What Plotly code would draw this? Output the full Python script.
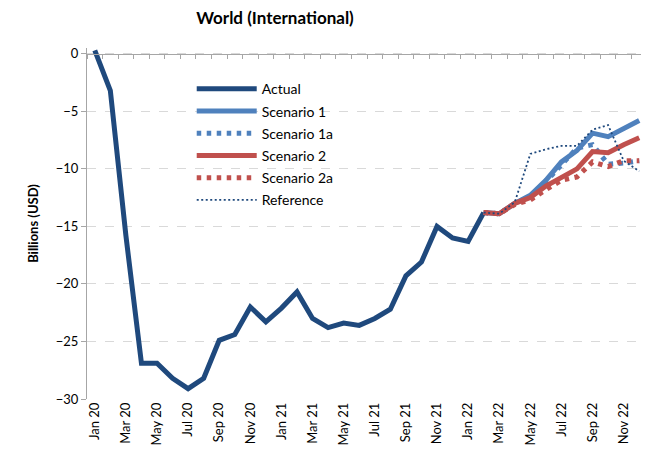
import plotly.graph_objects as go

months = ["Jan 20", "Feb 20", "Mar 20", "Apr 20", "May 20", "Jun 20", "Jul 20", "Aug 20",
          "Sep 20", "Oct 20", "Nov 20", "Dec 20", "Jan 21", "Feb 21", "Mar 21", "Apr 21",
          "May 21", "Jun 21", "Jul 21", "Aug 21", "Sep 21", "Oct 21", "Nov 21", "Dec 21",
          "Jan 22", "Feb 22", "Mar 22", "Apr 22", "May 22", "Jun 22", "Jul 22", "Aug 22",
          "Sep 22", "Oct 22", "Nov 22", "Dec 22"]

actual = [0.3, -3.2, -15.8, -26.9, -26.9, -28.2, -29.1, -28.2, -24.9, -24.4, -22.0, -23.3,
          -22.1, -20.7, -23.0, -23.8, -23.4, -23.6, -23.0, -22.2, -19.3, -18.1, -15.0, -16.0,
          -16.3, -13.8]

# Feb 22 .. Dec 22
scenario_1 = [-13.8, -13.9, -13.0, -12.3, -11.0, -9.4, -8.4, -6.9, -7.2, -6.5, -5.8]
scenario_1a = [-13.8, -13.9, -13.0, -12.4, -11.1, -9.6, -8.2, -7.9, -9.6, -9.5, -9.3]
scenario_2 = [-13.8, -13.9, -13.0, -12.5, -11.5, -10.7, -10.0, -8.5, -8.6, -7.9, -7.3]
scenario_2a = [-13.8, -13.9, -13.1, -12.7, -11.8, -11.0, -10.7, -9.4, -9.8, -9.3, -9.3]
reference = [-13.8, -13.9, -12.9, -8.7, -8.3, -8.0, -8.0, -6.6, -6.2, -9.3, -10.2]

y_ticks = [0, -5, -10, -15, -20, -25, -30]

FONT = "Lato"
NAVY = "#1f497d"
BLUE = "#4f81bd"
RED = "#c0504d"

x_act = list(range(len(actual)))
start = months.index("Feb 22")
x_sc = list(range(start, start + len(scenario_1)))

fig = go.Figure()

def add(name, x, y, color, width, dash, group):
    fig.add_trace(go.Scatter(x=x, y=y, name=name, mode="lines",
                             line=dict(color=color, width=width, dash=dash),
                             legendgroup=group))

add("Actual", x_act, actual, NAVY, 5, "solid", "a")
add("Scenario 1", x_sc, scenario_1, BLUE, 5, "solid", "b")
add("Scenario 1a", x_sc, scenario_1a, BLUE, 5, "4.5px,5.5px", "c")
add("Scenario 2", x_sc, scenario_2, RED, 5, "solid", "d")
add("Scenario 2a", x_sc, scenario_2a, RED, 5, "4.5px,5.5px", "e")
add("Reference", x_sc, reference, NAVY, 1.8, "2px,2.5px", "f")

# empty trace to host the label axis
fig.add_trace(go.Scatter(x=[], y=[], xaxis="x2", showlegend=False, hoverinfo="skip"))

ymin, ymax = -30, 0.5
zero_pos = (0 - ymin) / (ymax - ymin)
n = len(months)

# the page body adds an 8px offset; margins compensate for it
fig.update_layout(
    width=649, height=462,
    margin=dict(l=79, r=10, t=40, b=71),
    paper_bgcolor="white", plot_bgcolor="white",
    font=dict(family=FONT, size=13, color="#000000"),
    title=dict(text="<b>World (International)</b>", x=267 / 649, xref="container",
               xanchor="center", y=1 - 4 / 462, yref="container", yanchor="top",
               pad=dict(t=0, b=0, l=0, r=0),
               font=dict(family=FONT, size=17, color="#000000")),
    showlegend=True,
    legend=dict(x=0.187, y=0.928, xanchor="left", yanchor="top",
                bgcolor="rgba(0,0,0,0)", font=dict(family=FONT, size=14, color="#000000"),
                tracegroupgap=1, itemwidth=60),
    xaxis=dict(range=[-0.5, n - 0.5], anchor="free", position=zero_pos,
               showline=True, linecolor="#a6a6a6", linewidth=1,
               ticks="outside", ticklen=4, tickcolor="#a6a6a6",
               tickvals=[k - 0.5 for k in range(n + 1)], automargin=False,
               showticklabels=False, showgrid=False, zeroline=False),
    xaxis2=dict(range=[-0.5, n - 0.5], overlaying="x", anchor="y", side="bottom",
                tickmode="array", tickvals=list(range(0, n, 2)), ticktext=months[0::2],
                tickangle=-90, ticks="", showline=False, showgrid=False, zeroline=False,
                automargin=False,
                tickfont=dict(family=FONT, size=13, color="#000000")),
    yaxis=dict(range=[ymin, ymax], tickvals=y_ticks, showline=True, linecolor="#a6a6a6",
               ticks="outside", ticklen=5, tickcolor="#a6a6a6", automargin=False,
               showgrid=True, gridcolor="#d9d9d9", griddash="dash", zeroline=False,
               tickfont=dict(family=FONT, size=13, color="#000000"),
               title=dict(text="<b>Billions (USD)</b>", standoff=14,
                          font=dict(family=FONT, size=13, color="#000000"))),
)

fig.write_html("out.html")
